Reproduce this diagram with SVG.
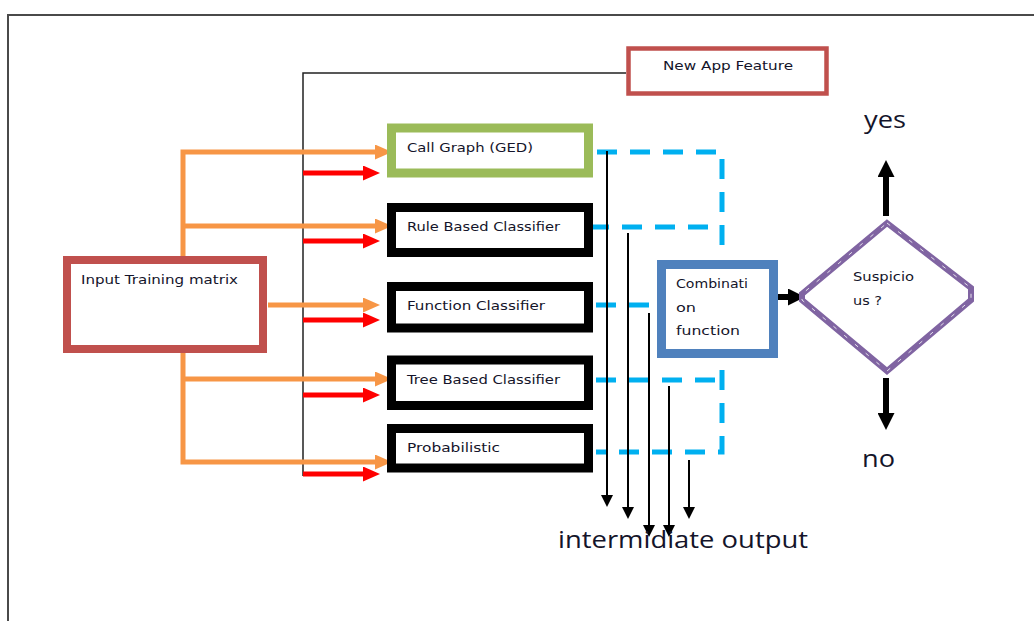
<svg xmlns="http://www.w3.org/2000/svg" width="1034" height="621" viewBox="0 0 1034 621">
  <style>
    .lbl { font-family: "DejaVu Sans", Verdana, sans-serif; font-size: 13px; fill: #14142a; }
    .big { font-family: "Open Sans", "Noto Sans", sans-serif; font-size: 24px; fill: #14142a; }
    .box { fill: #ffffff; }
    .orange { fill: none; stroke: #F79646; stroke-width: 5; }
    .red { fill: none; stroke: #FF0000; stroke-width: 5; }
    .blue { fill: none; stroke: #00B0F0; stroke-width: 5; stroke-dasharray: 20 13; }
    .thin { fill: none; stroke: #000000; stroke-width: 2; }
    .thick { fill: none; stroke: #000000; stroke-width: 6; }
  </style>
  <defs>
    <marker id="ahOrange" markerUnits="userSpaceOnUse" markerWidth="17" markerHeight="15" refX="7" refY="7.5" orient="auto">
      <path d="M0,0 L17,7.5 L0,15 z" fill="#F79646"/>
    </marker>
    <marker id="ahRed" markerUnits="userSpaceOnUse" markerWidth="17" markerHeight="15" refX="7" refY="7.5" orient="auto">
      <path d="M0,0 L17,7.5 L0,15 z" fill="#FF0000"/>
    </marker>
    <marker id="ahSmall" markerUnits="userSpaceOnUse" markerWidth="12" markerHeight="12" refX="4" refY="6" orient="auto">
      <path d="M0,0 L12,6 L0,12 z" fill="#000000"/>
    </marker>
    <marker id="ahBig" markerUnits="userSpaceOnUse" markerWidth="17" markerHeight="17" refX="7" refY="8.5" orient="auto">
      <path d="M0,0 L17,8.5 L0,17 z" fill="#000000"/>
    </marker>
  </defs>

  <rect width="1034" height="621" fill="#ffffff"/>
  <!-- page frame -->
  <path d="M8,621 V15 H1034" fill="none" stroke="#4a4a4a" stroke-width="2"/>

  <!-- connectors -->
  <g id="connectors">
    <!-- feature line from the new app -->
    <path d="M626,73 H303 V476" fill="none" stroke="#222222" stroke-width="1.5"/>

    <!-- training matrix to classifiers -->
    <path class="orange" d="M183,257 V152 H382" marker-end="url(#ahOrange)"/>
    <path class="orange" d="M183,226 H382" marker-end="url(#ahOrange)"/>
    <path class="orange" d="M268,305 H370" marker-end="url(#ahOrange)"/>
    <path class="orange" d="M183,352 V462 H382" marker-end="url(#ahOrange)"/>
    <path class="orange" d="M183,379 H382" marker-end="url(#ahOrange)"/>

    <!-- new app feature to classifiers -->
    <path class="red" d="M303,173 H370" marker-end="url(#ahRed)"/>
    <path class="red" d="M303,241 H370" marker-end="url(#ahRed)"/>
    <path class="red" d="M303,320 H370" marker-end="url(#ahRed)"/>
    <path class="red" d="M303,395 H370" marker-end="url(#ahRed)"/>
    <path class="red" d="M303,474 H370" marker-end="url(#ahRed)"/>

    <!-- classifier results to combination -->
    <path class="blue" d="M597,152 H722 V258"/>
    <path class="blue" d="M589,227 H712"/>
    <path class="blue" d="M596,305 H650"/>
    <path class="blue" d="M596,380 H722"/>
    <path class="blue" d="M722,370 V452 H596"/>

    <!-- intermediate outputs -->
    <path class="thin" d="M607,151 V499" marker-end="url(#ahSmall)"/>
    <path class="thin" d="M628,233 V511" marker-end="url(#ahSmall)"/>
    <path class="thin" d="M649,313 V529" marker-end="url(#ahSmall)"/>
    <path class="thin" d="M669,386 V529" marker-end="url(#ahSmall)"/>
    <path class="thin" d="M689,460 V511" marker-end="url(#ahSmall)"/>

    <!-- decision -->
    <path class="thick" d="M778,297 H795" marker-end="url(#ahBig)"/>
    <path class="thick" d="M886,216 V170" marker-end="url(#ahBig)"/>
    <path class="thick" d="M886,378 V420" marker-end="url(#ahBig)"/>
  </g>

  <g id="input-training">
    <rect class="box" x="67" y="260" width="196" height="89" stroke="#C0504D" stroke-width="8"/>
    <text class="lbl" x="81" y="284" textLength="157" lengthAdjust="spacingAndGlyphs">Input Training matrix</text>
  </g>

  <g id="new-app-feature">
    <rect class="box" x="628.5" y="48.5" width="198" height="45" stroke="#C0504D" stroke-width="4.5"/>
    <text class="lbl" x="663" y="70" textLength="130" lengthAdjust="spacingAndGlyphs">New App Feature</text>
  </g>

  <g id="call-graph">
    <rect class="box" x="391.5" y="128" width="197" height="45" stroke="#9BBB59" stroke-width="9"/>
    <text class="lbl" x="407" y="152" textLength="126" lengthAdjust="spacingAndGlyphs">Call Graph (GED)</text>
  </g>

  <g id="rule-based">
    <rect class="box" x="391.5" y="207.5" width="197" height="45" stroke="#000000" stroke-width="9"/>
    <text class="lbl" x="407" y="231" textLength="153" lengthAdjust="spacingAndGlyphs">Rule Based Classifier</text>
  </g>

  <g id="function-classifier">
    <rect class="box" x="391.5" y="286.5" width="197" height="41.5" stroke="#000000" stroke-width="9"/>
    <text class="lbl" x="407" y="310" textLength="138" lengthAdjust="spacingAndGlyphs">Function Classifier</text>
  </g>

  <g id="tree-based">
    <rect class="box" x="391.5" y="360" width="197" height="45.5" stroke="#000000" stroke-width="9"/>
    <text class="lbl" x="407" y="384" textLength="153" lengthAdjust="spacingAndGlyphs">Tree Based Classifier</text>
  </g>

  <g id="probabilistic">
    <rect class="box" x="391.5" y="428.5" width="197" height="39.5" stroke="#000000" stroke-width="9"/>
    <text class="lbl" x="407" y="452" textLength="93" lengthAdjust="spacingAndGlyphs">Probabilistic</text>
  </g>

  <g id="combination">
    <rect class="box" x="661.5" y="264.5" width="112" height="89" stroke="#4F81BD" stroke-width="9"/>
    <text class="lbl" x="676" y="288" textLength="72" lengthAdjust="spacingAndGlyphs">Combinati</text>
    <text class="lbl" x="676" y="312" textLength="20" lengthAdjust="spacingAndGlyphs">on</text>
    <text class="lbl" x="676" y="335" textLength="64" lengthAdjust="spacingAndGlyphs">function</text>
  </g>

  <g id="suspicious">
    <polygon points="887,223 971,288 971,300 887,371 802,300 802,294" fill="#ffffff" stroke="#8064A2" stroke-width="6" stroke-linejoin="miter"/>
    <polygon points="887,223 971,288 971,300 887,371 802,300 802,294" fill="none" stroke="#ffffff" stroke-width="1" stroke-dasharray="4 10" opacity="0.8"/>
    <text class="lbl" x="853" y="281" textLength="61" lengthAdjust="spacingAndGlyphs">Suspicio</text>
    <text class="lbl" x="853" y="305" textLength="29" lengthAdjust="spacingAndGlyphs">us ?</text>
  </g>

  <g id="outcomes">
    <text class="big" x="864" y="128" textLength="42" lengthAdjust="spacingAndGlyphs">yes</text>
    <text class="big" x="862" y="467" textLength="33" lengthAdjust="spacingAndGlyphs">no</text>
    <text class="big" x="558" y="548" textLength="250" lengthAdjust="spacingAndGlyphs">intermidiate output</text>
  </g>
</svg>
